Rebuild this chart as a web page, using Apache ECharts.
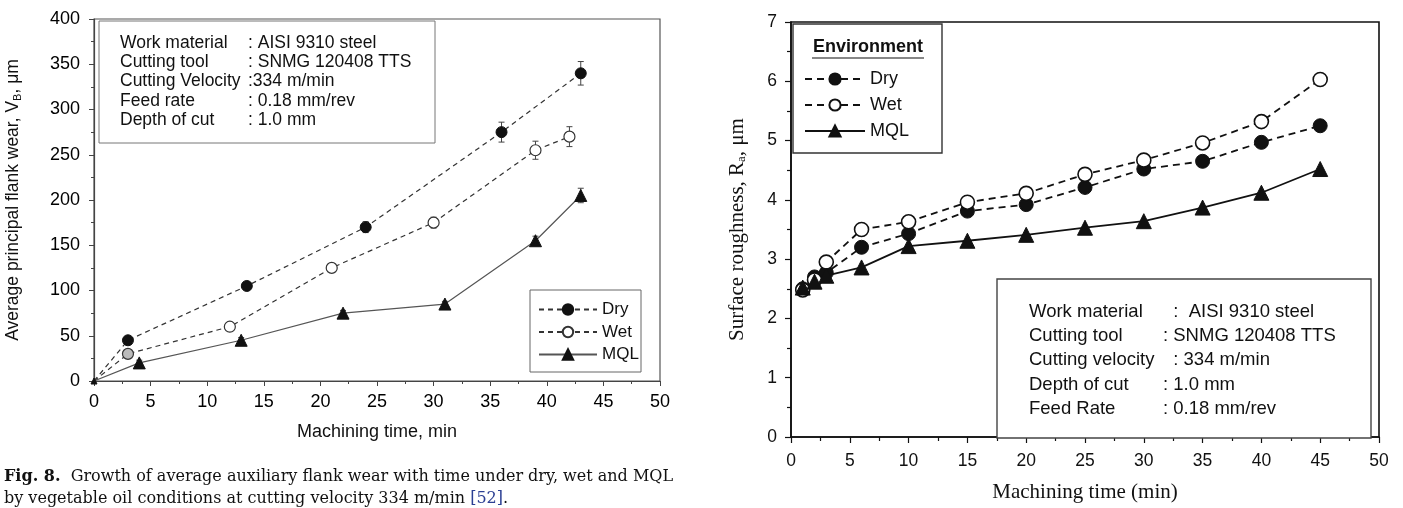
<!DOCTYPE html>
<html>
<head>
<meta charset="utf-8">
<script src="https://cdn.jsdelivr.net/npm/echarts@6/dist/echarts.min.js"></script>
<style>
html,body{margin:0;padding:0;background:#fff;}
#c{width:1403px;height:508px;}
</style>
</head>
<body>
<div id="c"></div>
<script>
// ---------- Left chart (flank wear) ----------
const wearDryX = [0, 3, 13.5, 24, 36, 43];
const wearDryY = [0, 45, 105, 170, 275, 340];
const wearDryErr = [0, 0, 0, 6, 11, 13];
const wearWetX = [0, 3, 12, 21, 30, 39, 42];
const wearWetY = [0, 30, 60, 125, 175, 255, 270];
const wearWetErr = [0, 0, 0, 0, 6, 10, 11];
const wearMqlX = [0, 4, 13, 22, 31, 39, 43];
const wearMqlY = [0, 20, 45, 75, 85, 155, 205];
const wearMqlErr = [0, 3, 3, 3, 3, 5, 8];

// ---------- Right chart (surface roughness) ----------
const roughX = [1, 2, 3, 6, 10, 15, 20, 25, 30, 35, 40, 45];
const roughDry = [2.5, 2.7, 2.77, 3.2, 3.43, 3.81, 3.92, 4.21, 4.52, 4.65, 4.97, 5.25];
const roughWet = [2.48, 2.65, 2.95, 3.5, 3.63, 3.96, 4.11, 4.43, 4.67, 4.96, 5.32, 6.03];
const roughMql = [2.52, 2.62, 2.72, 2.86, 3.22, 3.31, 3.41, 3.53, 3.64, 3.87, 4.12, 4.52];

const seriesNames = ['Dry', 'Wet', 'MQL'];

// ---------- Texts ----------
const leftBoxLabels = ['Work material', 'Cutting tool', 'Cutting Velocity', 'Feed rate', 'Depth of cut'];
const leftBoxValues = [': AISI 9310 steel', ': SNMG 120408 TTS', ':334 m/min', ': 0.18 mm/rev', ': 1.0 mm'];
const rightBoxLabels = ['Work material', 'Cutting tool', 'Cutting velocity', 'Depth of cut', 'Feed Rate'];
const rightBoxValues = ['  :  AISI 9310 steel', ': SNMG 120408 TTS', '  : 334 m/min', ': 1.0 mm', ': 0.18 mm/rev'];
const legendTitle = 'Environment';
const caption1 = 'Growth of average auxiliary flank wear with time under dry, wet and MQL';
const caption2 = 'by vegetable oil conditions at cutting velocity 334 m/min ';
const captionRef = '[52]';

const zip = (xs, ys) => xs.map((x, i) => [x, ys[i]]);
const errData = (xs, ys, es) => xs.map((x, i) => [x, ys[i] - es[i], ys[i] + es[i]]).filter((d, i) => es[i] > 0);

function errRender(params, api) {
  const x = api.value(0), lo = api.value(1), hi = api.value(2);
  const p1 = api.coord([x, hi]), p2 = api.coord([x, lo]);
  const w = 3;
  const st = { stroke: '#444', lineWidth: 1 };
  return { type: 'group', children: [
    { type: 'line', shape: { x1: p1[0], y1: p1[1], x2: p2[0], y2: p2[1] }, style: st },
    { type: 'line', shape: { x1: p1[0] - w, y1: p1[1], x2: p1[0] + w, y2: p1[1] }, style: st },
    { type: 'line', shape: { x1: p2[0] - w, y1: p2[1], x2: p2[0] + w, y2: p2[1] }, style: st }
  ]};
}

const sans = '"Liberation Sans", Arial, sans-serif';
const serif = '"Liberation Serif", "Times New Roman", serif';
const capSerif = '"DejaVu Serif", serif';

const chart = echarts.init(document.getElementById('c'), null, { renderer: 'canvas' });

const leftAxisLine = { show: true, lineStyle: { color: '#444', width: 1.2 } };
const rightAxisLine = { show: true, lineStyle: { color: '#111', width: 1.6 } };

const graphics = [];
// left text box
graphics.push({ type: 'rect', shape: { x: 99, y: 21, width: 336, height: 122 }, style: { fill: '#fff', stroke: '#777', lineWidth: 1 }, z: 10 });
leftBoxLabels.forEach((t, i) => {
  graphics.push({ type: 'text', x: 120, y: 43 + i * 19.3, style: { text: t, font: '17.5px ' + sans, fill: '#111', textVerticalAlign: 'middle' }, z: 11 });
  graphics.push({ type: 'text', x: 248, y: 43 + i * 19.3, style: { text: leftBoxValues[i], font: '17.5px ' + sans, fill: '#111', textVerticalAlign: 'middle' }, z: 11 });
});
// left legend box
graphics.push({ type: 'rect', shape: { x: 530, y: 290, width: 111, height: 82 }, style: { fill: '#fff', stroke: '#666', lineWidth: 1 }, z: 10 });
// right legend box
graphics.push({ type: 'rect', shape: { x: 793, y: 24, width: 149, height: 129 }, style: { fill: '#fff', stroke: '#333', lineWidth: 1.4 }, z: 10 });
graphics.push({ type: 'text', x: 868, y: 47, style: { text: legendTitle, font: 'bold 18px ' + sans, fill: '#111', textAlign: 'center', textVerticalAlign: 'middle' }, z: 11 });
graphics.push({ type: 'line', shape: { x1: 812, y1: 58, x2: 924, y2: 58 }, style: { stroke: '#111', lineWidth: 1.2 }, z: 11 });
// right text box
graphics.push({ type: 'rect', shape: { x: 997, y: 279, width: 374, height: 159 }, style: { fill: '#fff', stroke: '#444', lineWidth: 1.4 }, z: 10 });
rightBoxLabels.forEach((t, i) => {
  graphics.push({ type: 'text', x: 1029, y: 312 + i * 24.2, style: { text: t, font: '18.5px ' + sans, fill: '#111', textVerticalAlign: 'middle' }, z: 11 });
  graphics.push({ type: 'text', x: 1163, y: 312 + i * 24.2, style: { text: rightBoxValues[i], font: '18.5px ' + sans, fill: '#111', textVerticalAlign: 'middle' }, z: 11 });
});
// caption
graphics.push({ type: 'text', x: 4, y: 477, style: {
  text: '{b|Fig. 8.}  ' + caption1,
  font: '16px ' + capSerif, fill: '#111', textVerticalAlign: 'middle',
  rich: { b: { font: 'bold 16px ' + capSerif, fill: '#111' } }
}, z: 11 });
graphics.push({ type: 'text', x: 4, y: 499, style: {
  text: caption2 + '{r|' + captionRef + '}.',
  font: '16px ' + capSerif, fill: '#111', textVerticalAlign: 'middle',
  rich: { r: { font: '16px ' + capSerif, fill: '#2b3f93' } }
}, z: 11 });

const option = {
  animation: false,
  backgroundColor: '#fff',
  grid: [
    { left: 94, top: 19, width: 566, height: 362, show: true, borderColor: '#555', borderWidth: 1.2, backgroundColor: 'transparent' },
    { left: 791, top: 22, width: 588, height: 419, show: true, borderColor: '#111', borderWidth: 1.6, backgroundColor: 'transparent' }
  ],
  xAxis: [
    { gridIndex: 0, type: 'value', min: 0, max: 50, interval: 5,
      name: 'Machining time, min', nameLocation: 'middle', nameGap: 42,
      nameTextStyle: { fontFamily: sans, fontSize: 18, color: '#111' },
      axisLine: leftAxisLine, axisTick: { show: true, length: 5, lineStyle: { color: '#444' } },
      minorTick: { show: true, splitNumber: 2, length: 3, lineStyle: { color: '#444' } },
      splitLine: { show: false },
      axisLabel: { margin: 12, fontFamily: sans, fontSize: 18, color: '#000' } },
    { gridIndex: 1, type: 'value', min: 0, max: 50, interval: 5,
      name: 'Machining time (min)', nameLocation: 'middle', nameGap: 45,
      nameTextStyle: { fontFamily: serif, fontSize: 21, color: '#111' },
      axisLine: rightAxisLine, axisTick: { show: true, length: 6, lineStyle: { color: '#111', width: 1.2 } },
      minorTick: { show: true, splitNumber: 2, length: 4, lineStyle: { color: '#111', width: 1.2 } },
      splitLine: { show: false },
      axisLabel: { margin: 15, fontFamily: sans, fontSize: 17.5, color: '#111' } }
  ],
  yAxis: [
    { gridIndex: 0, type: 'value', min: 0, max: 400, interval: 50,
      name: 'Average principal flank wear, V{sub|B}, μm', nameLocation: 'middle', nameGap: 71,
      nameTextStyle: { fontFamily: sans, fontSize: 17.5, color: '#111', rich: { sub: { fontSize: 11, fontFamily: sans, color: '#111', padding: [8, 0, 0, 0] } } },
      axisLine: leftAxisLine, axisTick: { show: true, length: 5, lineStyle: { color: '#444' } },
      minorTick: { show: true, splitNumber: 2, length: 3, lineStyle: { color: '#444' } },
      splitLine: { show: false },
      axisLabel: { margin: 14, fontFamily: sans, fontSize: 18, color: '#000' } },
    { gridIndex: 1, type: 'value', min: 0, max: 7, interval: 1,
      name: 'Surface roughness, R{sub|a}, μm', nameLocation: 'middle', nameGap: 43,
      nameTextStyle: { fontFamily: serif, fontSize: 21, color: '#111', rich: { sub: { fontSize: 13, fontFamily: serif, color: '#111', padding: [9, 0, 0, 0] } } },
      axisLine: rightAxisLine, axisTick: { show: true, length: 6, lineStyle: { color: '#111', width: 1.2 } },
      minorTick: { show: true, splitNumber: 2, length: 4, lineStyle: { color: '#111', width: 1.2 } },
      splitLine: { show: false },
      axisLabel: { margin: 14, fontFamily: sans, fontSize: 17.5, color: '#111' } }
  ],
  legend: [
    { show: true, selectedMode: false, orient: 'vertical', left: 538, top: 301, padding: 0,
      itemWidth: 58, itemHeight: 13, itemGap: 5.5,
      data: seriesNames,
      textStyle: { fontFamily: sans, fontSize: 17, color: '#111' },
      z: 12 },
    { show: true, selectedMode: false, orient: 'vertical', left: 804, top: 70, padding: 0,
      itemWidth: 60, itemHeight: 14, itemGap: 8,
      data: seriesNames.map(n => n + ' '),
      formatter: n => n.trim(),
      textStyle: { fontFamily: sans, fontSize: 18, color: '#111' },
      z: 12 }
  ],
  graphic: graphics,
  series: [
    // left error bars
    { type: 'custom', xAxisIndex: 0, yAxisIndex: 0, renderItem: errRender, data: errData(wearDryX, wearDryY, wearDryErr), encode: { x: 0, y: [1, 2] }, z: 1, silent: true },
    { type: 'custom', xAxisIndex: 0, yAxisIndex: 0, renderItem: errRender, data: errData(wearWetX, wearWetY, wearWetErr), encode: { x: 0, y: [1, 2] }, z: 1, silent: true },
    { type: 'custom', xAxisIndex: 0, yAxisIndex: 0, renderItem: errRender, data: errData(wearMqlX, wearMqlY, wearMqlErr), encode: { x: 0, y: [1, 2] }, z: 1, silent: true },
    { name: 'Dry', type: 'line', xAxisIndex: 0, yAxisIndex: 0,
      data: zip(wearDryX, wearDryY).map((d, i) => i === 0 ? { value: d, symbolSize: 0 } : d),
      symbol: 'circle', symbolSize: 11, showAllSymbol: true,
      lineStyle: { color: '#333', width: 1.2, type: [5, 4] },
      itemStyle: { color: '#111', borderColor: '#111', borderWidth: 1 }, z: 3 },
    { name: 'Wet', type: 'line', xAxisIndex: 0, yAxisIndex: 0,
      data: zip(wearWetX, wearWetY).map((d, i) => i === 0 ? { value: d, symbolSize: 0 } : (i === 1 ? { value: d, itemStyle: { color: '#bbb' } } : d)),
      symbol: 'circle', symbolSize: 11, showAllSymbol: true,
      lineStyle: { color: '#333', width: 1.2, type: [5, 4] },
      itemStyle: { color: '#fff', borderColor: '#333', borderWidth: 1.2 }, z: 3 },
    { name: 'MQL', type: 'line', xAxisIndex: 0, yAxisIndex: 0,
      data: zip(wearMqlX, wearMqlY).map((d, i) => i === 0 ? { value: d, symbolSize: 6 } : d),
      symbol: 'triangle', symbolSize: 12, showAllSymbol: true,
      lineStyle: { color: '#555', width: 1.2, type: 'solid' },
      itemStyle: { color: '#111', borderColor: '#111', borderWidth: 1 }, z: 3 },
    // right
    { name: 'Dry ', type: 'line', xAxisIndex: 1, yAxisIndex: 1,
      data: zip(roughX, roughDry),
      symbol: 'circle', symbolSize: 14, showAllSymbol: true,
      lineStyle: { color: '#111', width: 1.8, type: [7, 5] },
      itemStyle: { color: '#111', borderColor: '#111', borderWidth: 1 }, z: 3 },
    { name: 'Wet ', type: 'line', xAxisIndex: 1, yAxisIndex: 1,
      data: zip(roughX, roughWet),
      symbol: 'circle', symbolSize: 14, showAllSymbol: true,
      lineStyle: { color: '#111', width: 1.8, type: [7, 5] },
      itemStyle: { color: '#fff', borderColor: '#111', borderWidth: 1.6 }, z: 3 },
    { name: 'MQL ', type: 'line', xAxisIndex: 1, yAxisIndex: 1,
      data: zip(roughX, roughMql),
      symbol: 'triangle', symbolSize: 15, showAllSymbol: true,
      lineStyle: { color: '#111', width: 1.8, type: 'solid' },
      itemStyle: { color: '#111', borderColor: '#111', borderWidth: 1 }, z: 3 }
  ]
};
chart.setOption(option);
</script>
</body>
</html>
